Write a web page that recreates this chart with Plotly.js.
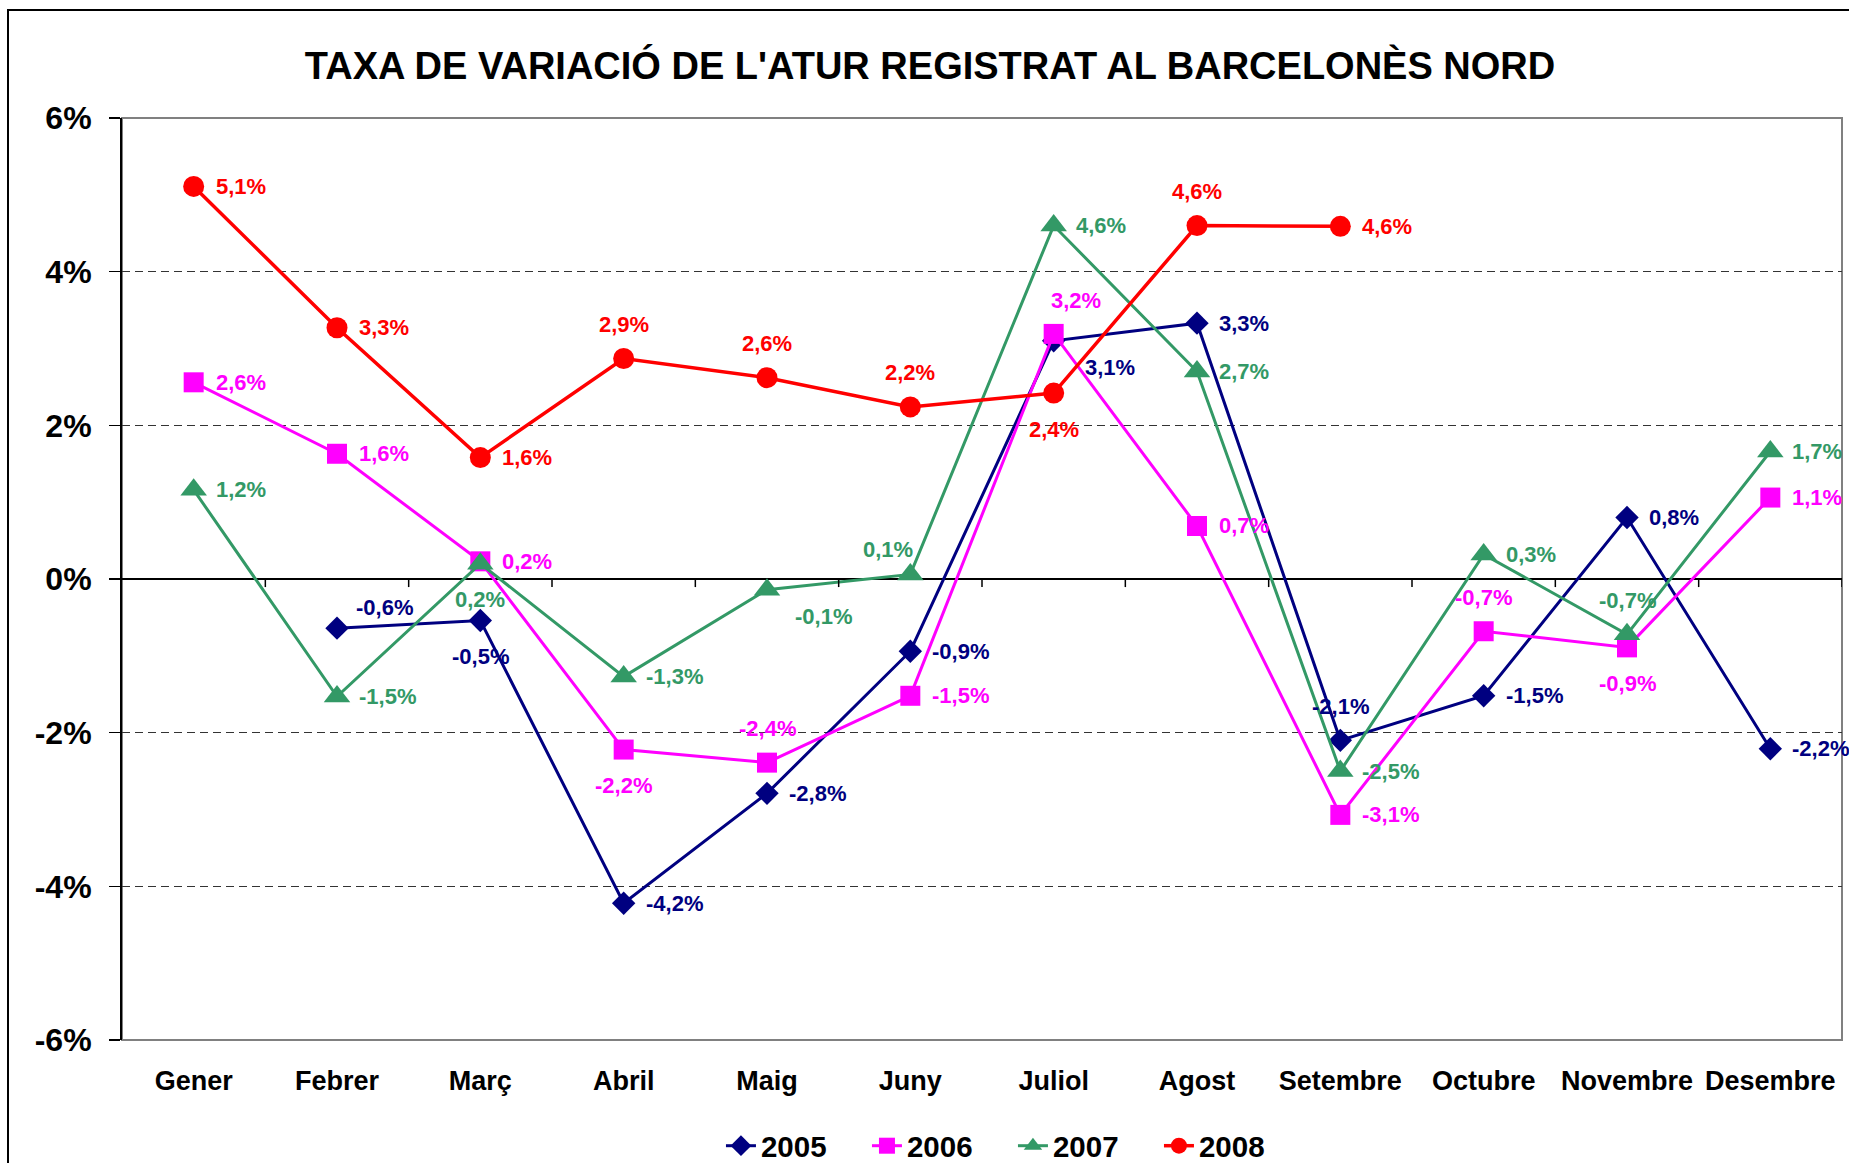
<!DOCTYPE html>
<html><head><meta charset="utf-8">
<script src="https://cdn.plot.ly/plotly-3.0.1.min.js"></script>
<style>
html,body{margin:0;padding:0;background:#fff;overflow:hidden}
#chart{position:absolute;left:0;top:0;width:1849px;height:1163px}
#frame{position:absolute;left:7px;top:9px;width:2000px;height:2000px;border-left:2px solid #000;border-top:2px solid #000;pointer-events:none}
</style></head><body>
<div id="chart"></div><div id="frame"></div>
<script>
// ---- data ----
const months = ['Gener','Febrer','Març','Abril','Maig','Juny','Juliol','Agost','Setembre','Octubre','Novembre','Desembre'];
const years = ['2005','2006','2007','2008'];
const s2005 = [null,-0.64,-0.54,-4.22,-2.79,-0.94,3.1,3.33,-2.1,-1.52,0.8,-2.21];
const s2006 = [2.56,1.63,0.23,-2.22,-2.39,-1.52,3.19,0.69,-3.07,-0.68,-0.89,1.06];
const s2007 = [1.16,-1.53,0.2,-1.27,-0.14,0.06,4.6,2.7,-2.5,0.32,-0.72,1.66];
const s2008 = [5.11,3.27,1.58,2.87,2.62,2.24,2.42,4.6,4.59,null,null,null];
const yTickVals = [-6,-4,-2,0,2,4,6];
const yTickText = ['-6%','-4%','-2%','0%','2%','4%','6%'];
const titleText = "TAXA DE VARIACIÓ DE L'ATUR REGISTRAT AL BARCELONÈS NORD";

// label placement (style, kept apart from values)
const pos2005 = [null,'tr','b','r','r','r','br','r','t','r','r','r'];
const pos2006 = ['r','r','r','b','t','r','tn','r','r','t','b','r'];
const pos2007 = ['r','r','b','r','br','tl','r','r','r','r','t','r'];
const pos2008 = ['r','r','r','t','t','t','b','t','r',null,null,null];

const FONT = 'Liberation Sans, Arial, Helvetica, sans-serif';
const seriesDefs = [
  {name: years[0], y: s2005, pos: pos2005, color: '#000080', symbol: 'diamond', size: 18, width: 3},
  {name: years[1], y: s2006, pos: pos2006, color: '#FF00FF', symbol: 'square', size: 20, width: 3},
  {name: years[2], y: s2007, pos: pos2007, color: '#339966', symbol: 'triangle-up', size: 23, width: 3},
  {name: years[3], y: s2008, pos: pos2008, color: '#FF0000', symbol: 'circle', size: 21, width: 3.5}
];

function fmt(v){
  return (Math.round(v*10)/10).toFixed(1).replace('.', ',') + '%';
}
const offsets = {
  r:  {xanchor:'left',   xshift: 20, yshift: 0},
  t:  {xanchor:'center', xshift: 0,  yshift: 34},
  tn: {xanchor:'center', xshift: 22, yshift: 33},
  b:  {xanchor:'center', xshift: 0,  yshift: -36},
  tr: {xanchor:'center', xshift: 47, yshift: 21},
  br: {xanchor:'center', xshift: 56, yshift: -27},
  tl: {xanchor:'center', xshift: -22, yshift: 25}
};

const traces = seriesDefs.map(s => ({
  type: 'scatter', mode: 'lines+markers', name: s.name,
  x: months, y: s.y,
  line: {color: s.color, width: s.width},
  marker: {color: s.color, symbol: s.symbol, size: s.size},
  hoverinfo: 'skip'
}));

const annotations = [];
seriesDefs.forEach(s => {
  s.y.forEach((v, i) => {
    if (v === null) return;
    const o = offsets[s.pos[i]];
    annotations.push({
      x: i, y: v, xref: 'x', yref: 'y', text: fmt(v), showarrow: false,
      xanchor: o.xanchor, yanchor: 'middle', xshift: o.xshift, yshift: o.yshift,
      font: {family: FONT, size: 22, color: s.color, weight: 'bold'}
    });
  });
});

const shapes = [{
  type: 'rect', xref: 'paper', yref: 'paper', x0: 0, x1: 1, y0: 0, y1: 1,
  line: {color: '#808080', width: 2}, layer: 'between'
}];
for (let k = 1; k <= months.length; k++) {
  shapes.push({type: 'line', xref: 'x', yref: 'y', x0: k - 0.5, x1: k - 0.5, y0: 0, y1: -0.105,
    line: {color: '#000', width: 1.5}, layer: 'above'});
}

const layout = {
  width: 1849, height: 1163,
  margin: {l: 122, r: 7, t: 118, b: 123, autoexpand: false},
  paper_bgcolor: 'rgba(0,0,0,0)', plot_bgcolor: 'rgba(0,0,0,0)',
  font: {family: FONT, color: '#000'},
  title: {text: titleText, font: {family: FONT, size: 38, color: '#000', weight: 'bold'},
    x: 0.503, xref: 'container', xanchor: 'center', y: 1 - 66/1163, yref: 'container', yanchor: 'middle'},
  xaxis: {type: 'category', categoryarray: months, range: [-0.5, 11.5],
    showgrid: false, zeroline: false, showline: false, ticks: '',
    ticklabelstandoff: 22,
    tickfont: {family: FONT, size: 27, color: '#000', weight: 'bold'}, fixedrange: true},
  yaxis: {range: [-6, 6], tickvals: yTickVals, ticktext: yTickText,
    showgrid: true, gridcolor: '#333333', gridwidth: 1.4, griddash: '8px,5px',
    zeroline: true, zerolinecolor: '#000', zerolinewidth: 1.5,
    showline: true, linecolor: '#000', linewidth: 2,
    ticks: 'outside', ticklen: 11, tickwidth: 1.5, tickcolor: '#000',
    ticklabelstandoff: 11,
    tickfont: {family: FONT, size: 32, color: '#000', weight: 'bold'}, fixedrange: true},
  legend: {orientation: 'h', x: 0.518, xanchor: 'center', y: -0.115, yanchor: 'middle',
    entrywidth: 101, entrywidthmode: 'pixels',
    font: {family: FONT, size: 29.5, color: '#000', weight: 'bold'}, bgcolor: 'rgba(0,0,0,0)'},
  showlegend: true,
  annotations: annotations,
  shapes: shapes
};

Plotly.newPlot('chart', traces, layout, {displayModeBar: false, staticPlot: true});
</script></body></html>
